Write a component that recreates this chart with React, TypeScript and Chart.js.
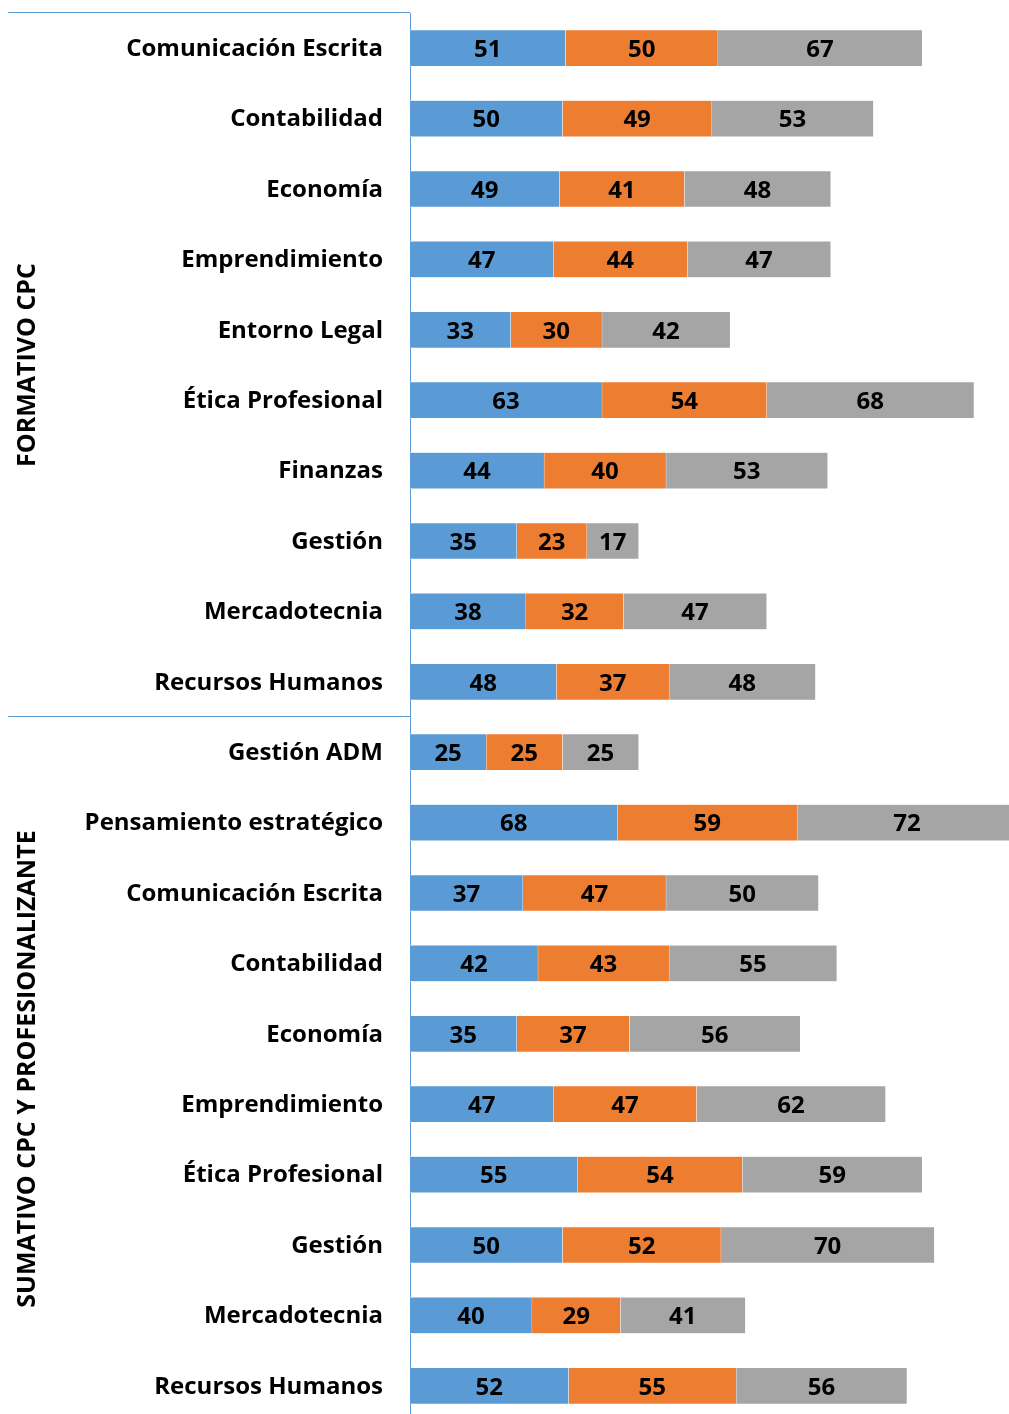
import React, { useEffect, useRef } from "react";
import { Chart, registerables } from "chart.js";

Chart.register(...registerables);

const categories = [
  "Comunicación Escrita",
  "Contabilidad",
  "Economía",
  "Emprendimiento",
  "Entorno Legal",
  "Ética Profesional",
  "Finanzas",
  "Gestión",
  "Mercadotecnia",
  "Recursos Humanos",
  "Gestión ADM",
  "Pensamiento estratégico",
  "Comunicación Escrita",
  "Contabilidad",
  "Economía",
  "Emprendimiento",
  "Ética Profesional",
  "Gestión",
  "Mercadotecnia",
  "Recursos Humanos",
];

const series1 = [51, 50, 49, 47, 33, 63, 44, 35, 38, 48, 25, 68, 37, 42, 35, 47, 55, 50, 40, 52];
const series2 = [50, 49, 41, 44, 30, 54, 40, 23, 32, 37, 25, 59, 47, 43, 37, 47, 54, 52, 29, 55];
const series3 = [67, 53, 48, 47, 42, 68, 53, 17, 47, 48, 25, 72, 50, 55, 56, 62, 59, 70, 41, 56];

const groupNames = ["FORMATIVO CPC", "SUMATIVO CPC Y PROFESIONALIZANTE"];
const groupSizes = [10, 10];

const colors = ["#5B9BD5", "#ED7D31", "#A5A5A5"];
const axisColor = "#5B9BD5";
const FONT = "'Open Sans', 'DejaVu Sans', sans-serif";

export default function App() {
  const ref = useRef<HTMLCanvasElement | null>(null);

  useEffect(() => {
    const canvas = ref.current;
    if (!canvas) return;

    const labelsPlugin = {
      id: "segLabels",
      afterDatasetsDraw(chart: any) {
        const ctx = chart.ctx;
        ctx.save();
        ctx.font = `bold 24px ${FONT}`;
        ctx.fillStyle = "#000";
        ctx.textAlign = "center";
        ctx.textBaseline = "middle";
        chart.data.datasets.forEach((ds: any, di: number) => {
          const meta = chart.getDatasetMeta(di);
          meta.data.forEach((el: any, i: number) => {
            const v = ds.data[i];
            const cx = (el.x + el.base) / 2;
            ctx.fillText(String(v), cx, el.y + 2);
          });
        });
        ctx.restore();
      },
    };

    const groupPlugin = {
      id: "groups",
      afterDraw(chart: any) {
        const ctx = chart.ctx;
        const area = chart.chartArea;
        const yScale = chart.scales.y;
        const n = categories.length;
        const step = (area.bottom - area.top) / n;
        ctx.save();
        // category labels
        ctx.font = `bold 24px ${FONT}`;
        ctx.fillStyle = "#000";
        ctx.textAlign = "right";
        ctx.textBaseline = "middle";
        categories.forEach((c, i) => {
          ctx.fillText(c, area.left - 27, yScale.getPixelForTick(i) + 1);
        });
        ctx.strokeStyle = axisColor;
        ctx.lineWidth = 1;
        let start = 0;
        groupSizes.forEach((size, gi) => {
          const yTop = area.top + start * step;
          const yBot = area.top + (start + size) * step;
          ctx.beginPath();
          ctx.moveTo(8, Math.round(yTop) - 0.5);
          ctx.lineTo(area.left, Math.round(yTop) - 0.5);
          ctx.stroke();
          ctx.save();
          ctx.translate(28, (yTop + yBot) / 2);
          ctx.rotate(-Math.PI / 2);
          ctx.font = `bold 25px ${FONT}`;
          ctx.fillStyle = "#000";
          ctx.textAlign = "center";
          ctx.textBaseline = "middle";
          ctx.fillText(groupNames[gi], 0, 0);
          ctx.restore();
          start += size;
        });
        ctx.restore();
      },
    };

    const chart = new Chart(canvas, {
      type: "bar",
      data: {
        labels: categories,
        datasets: [
          { label: "A", data: series1, backgroundColor: colors[0], borderColor: "#ffffff", borderWidth: 0.5 },
          { label: "B", data: series2, backgroundColor: colors[1], borderColor: "#ffffff", borderWidth: 0.5 },
          { label: "C", data: series3, backgroundColor: colors[2], borderColor: "#ffffff", borderWidth: 0.5 },
        ],
      },
      options: {
        indexAxis: "y",
        responsive: false,
        animation: false,
        devicePixelRatio: 1,
        layout: { padding: { top: 13, bottom: 0, left: 0, right: 0 } },
        datasets: { bar: { barThickness: 36 } },
        plugins: {
          legend: { display: false },
          tooltip: { enabled: false },
        },
        scales: {
          x: {
            stacked: true,
            min: 0,
            max: 196.5,
            display: false,
          },
          y: {
            stacked: true,
            grid: { display: false, drawTicks: false },
            border: { display: true, color: axisColor, width: 1 },
            afterFit: (scale: any) => {
              scale.width = 410;
              scale.paddingTop = 0;
              scale.paddingBottom = 0;
            },
            ticks: {
              display: false,
              padding: 0,
              autoSkip: false,
            },
          },
        },
      },
      plugins: [labelsPlugin, groupPlugin],
    } as any);

    return () => chart.destroy();
  }, []);

  return (
    <div style={{ position: "fixed", left: 0, top: 0, width: 1009, height: 1421 }}>
      <canvas ref={ref} width={1009} height={1421} style={{ display: "block" }} />
    </div>
  );
}
